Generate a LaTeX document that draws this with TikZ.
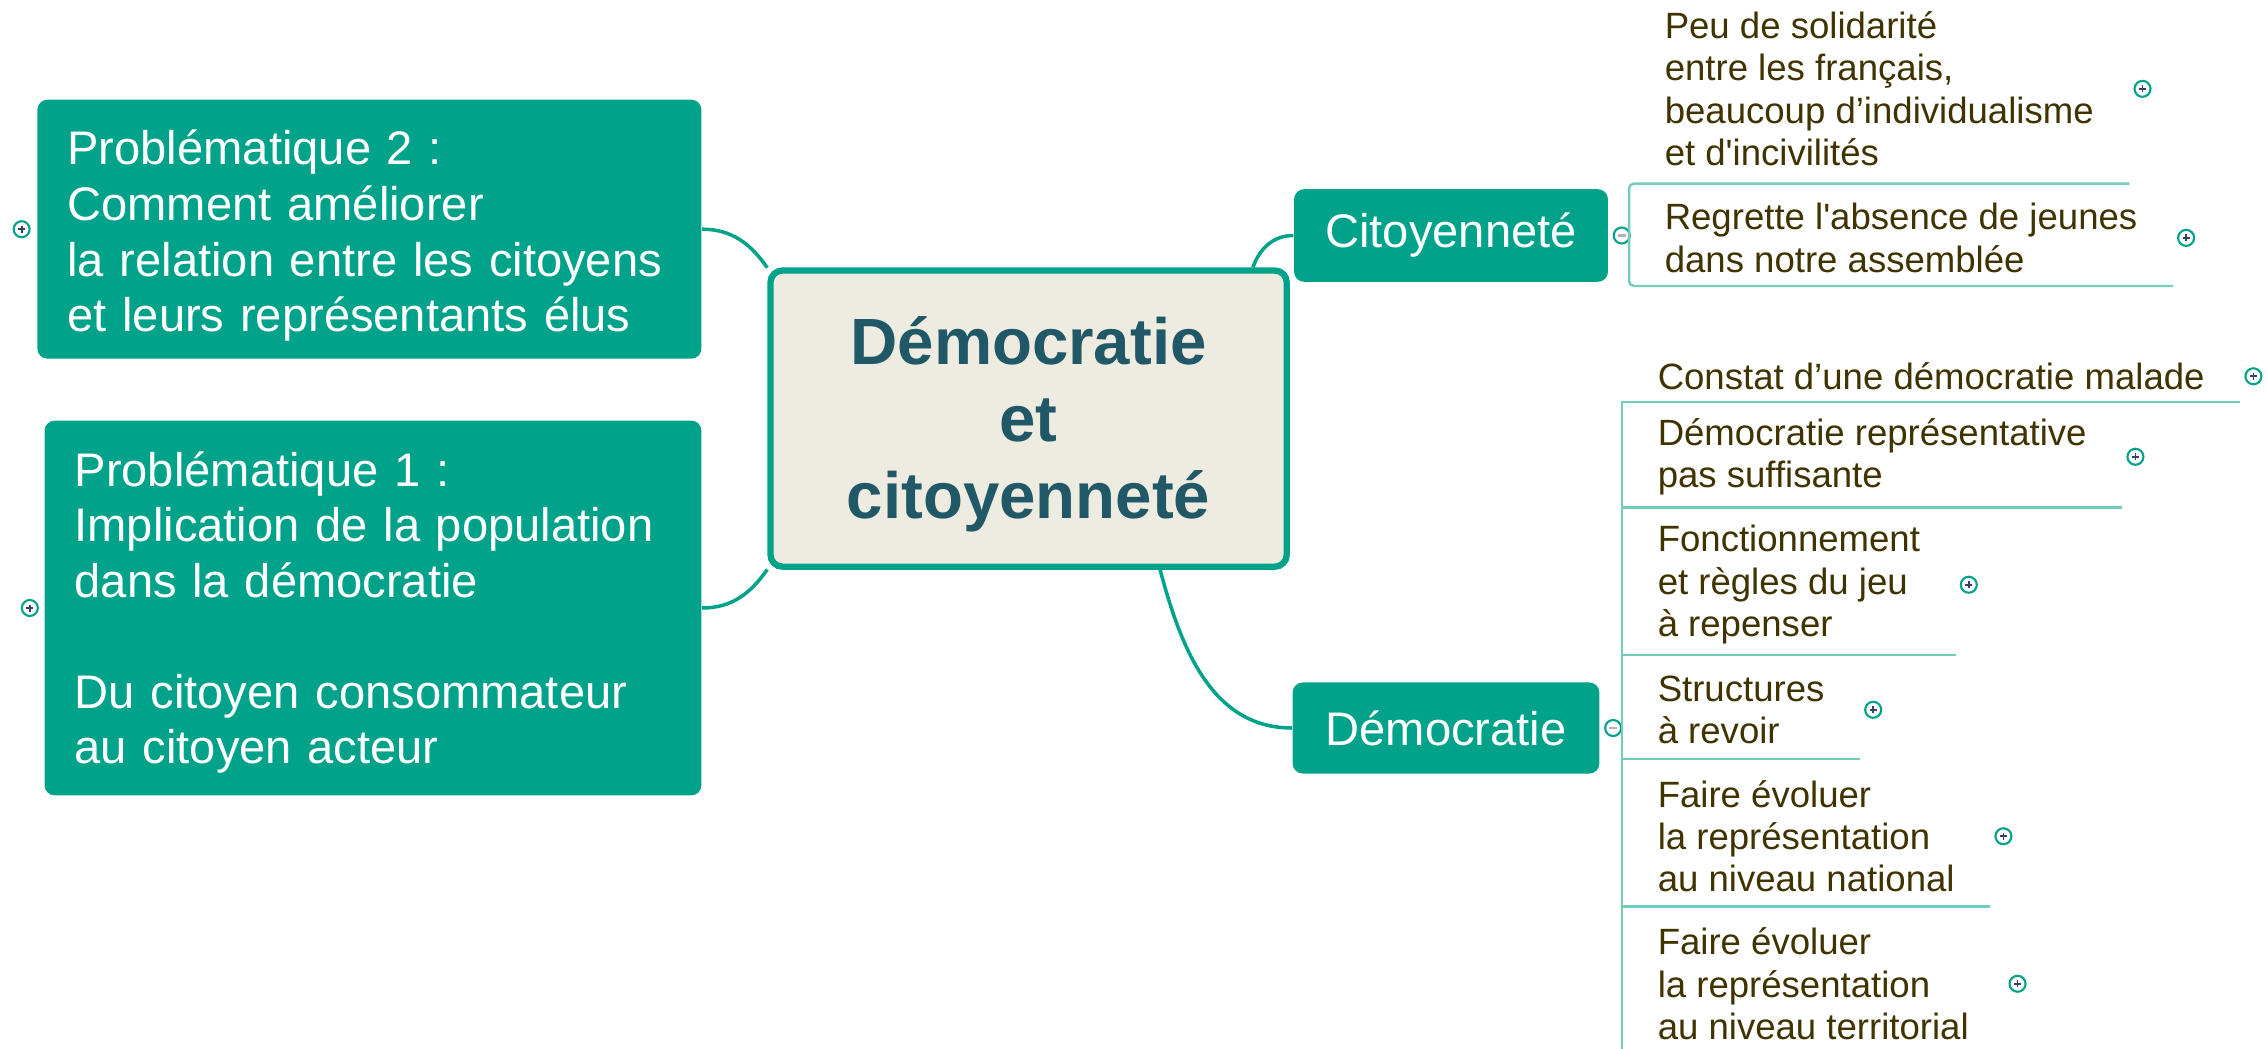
\documentclass[tikz,border=0pt]{standalone}
\usepackage{fontspec}
\setmainfont{Liberation Sans}
\usetikzlibrary{positioning}
\definecolor{vertmm}{HTML}{00A389}
\definecolor{vertclair}{HTML}{72CDBD}
\definecolor{beigemm}{HTML}{EEECE1}
\definecolor{bleutitre}{HTML}{215868}
\definecolor{brunfeuille}{HTML}{3F3300}
\definecolor{bleusigne}{HTML}{3A3F6B}
\begin{document}
\begin{tikzpicture}[x=0.01cm,y=-0.01cm]
        %======definition des blocs==========%

            \tikzstyle{centre}=[rectangle,rounded corners=0.12cm,draw=vertmm,line width=1.8pt,fill=beigemm,text=bleutitre,align=center,font=\fontsize{18.6}{21.9}\selectfont\bfseries,minimum width=5.16cm,minimum height=2.96cm]
            \tikzstyle{branche}=[rectangle,rounded corners=0.1cm,fill=vertmm,text=white,font=\fontsize{13.4}{15.8}\selectfont]
            \tikzstyle{probleme}=[branche,align=left,inner xsep=0.30cm]
            \tikzstyle{feuille}=[rectangle,anchor=south west,align=left,inner xsep=0.35cm,inner ysep=2pt,text=brunfeuille,font=\fontsize{10.4}{12.05}\selectfont]
            \tikzstyle{lien}=[draw=vertmm,line width=1pt]
            \tikzstyle{trait}=[draw=vertclair,line width=0.7pt]
            \tikzstyle{bouton}=[circle,draw=vertmm,line width=0.6pt,fill=white,minimum size=0.16cm,inner sep=0pt]
            \tikzstyle{bplus}=[bouton,path picture={\draw[bleusigne,line width=0.5pt] (path picture bounding box.center) ++(-3.5,0) -- ++(7,0) ++(-3.5,-3.5) -- ++(0,7);}]
            \tikzstyle{bmoins}=[bouton,path picture={\draw[gray!60,line width=0.8pt] (path picture bounding box.center) ++(-4,0) -- ++(8,0);}]

        %====================%%=============%

            \useasboundingbox (0,0) rectangle (2267,1049);
            \clip (0,0) rectangle (2267,1049);

            \node[centre](C) at (1028.6,418.6) {\rule{0pt}{17pt}Démocratie\\et\\citoyenneté};

            \node[probleme,minimum width=6.636cm,minimum height=2.588cm,text width=6.036cm](P2) at (369.4,229.2) {\rule{0pt}{13.6pt}Problématique 2 :\\Comment améliorer\\la relation entre les citoyens\\et leurs représentants élus};
            \node[probleme,minimum width=6.564cm,minimum height=3.745cm,text width=5.964cm](P1) at (373,608) {\rule{0pt}{12.5pt}Problématique 1 :\\Implication de la population\\dans la démocratie\\[15.8pt]Du citoyen consommateur\\au citoyen acteur};
            \node[bplus,left=0.06cm of P2](P2p) {};
            \node[bplus,left=0.05cm of P1](P1p) {};

            \node[branche,minimum width=3.137cm,minimum height=0.925cm](CI) at (1451,235.5) {Citoyenneté};
            \node[branche,minimum width=3.065cm,minimum height=0.91cm](DE) at (1446,728) {Démocratie};
            \node[bmoins,right=0.04cm of CI](CIm) {};
            \node[bmoins,right=0.04cm of DE](DEm) {};

        %======feuilles==========%

            \node[feuille,minimum height=1.88cm](CI1) at (1629,183.6) {Peu de solidarité\\entre les français,\\beaucoup d’individualisme\\et d\textquotesingle incivilités};
            \node[feuille,minimum height=0.948cm](CI2) at (1629,286) {Regrette l\textquotesingle absence de jeunes\\dans notre assemblée};
            \node[bplus,right=0.04cm of CI1](CI1p) {};
            \node[bplus,right=0.04cm of CI2](CI2p) {};

            \node[feuille,minimum height=0.5cm](DE1) at (1622,402) {Constat d’une démocratie malade};
            \node[feuille,minimum height=1cm](DE2) at (1622,507.5) {Démocratie représentative\\pas suffisante};
            \node[feuille,minimum height=1.39cm](DE3) at (1622,655) {Fonctionnement\\et règles du jeu\\à repenser};
            \node[feuille,minimum height=0.97cm](DE4) at (1622,759) {Structures\\à revoir};
            \node[feuille,minimum height=1.39cm](DE5) at (1622,906.5) {Faire évoluer\\la représentation\\au niveau national};
            \node[feuille,minimum height=1.39cm](DE6) at (1622,1054) {Faire évoluer\\la représentation\\au niveau territorial};
            \node[bplus,right=0.04cm of DE1](DE1p) {};
            \node[bplus,right=0.04cm of DE2](DE2p) {};
            \node[bplus,right=0.04cm of DE3](DE3p) {};
            \node[bplus,right=0.04cm of DE4](DE4p) {};
            \node[bplus,right=0.04cm of DE5](DE5p) {};
            \node[bplus,right=0.04cm of DE6](DE6p) {};

        %======liens==========%

            \draw[lien](P2.east) to[out=0,in=125] (C.150);
            \draw[lien](P1.east) to[out=0,in=235] (C.210);
            \draw[lien](C.34) to[out=70,in=180] (CI.west);
            \draw[lien](C.311) to[out=-75,in=180] (DE.west);

            \draw[trait,rounded corners=0.05cm](CI1.south east) -- (CI1.south west) -- (CI2.south west) -- (CI2.south east);
            \draw[trait](DE1.south east) -- (DE1.south west) -- (DE6.south west);
            \draw[trait](DE2.south west) -- (DE2.south east);
            \draw[trait](DE3.south west) -- (DE3.south east);
            \draw[trait](DE4.south west) -- (DE4.south east);
            \draw[trait](DE5.south west) -- (DE5.south east);
        \end{tikzpicture}
\end{document}
